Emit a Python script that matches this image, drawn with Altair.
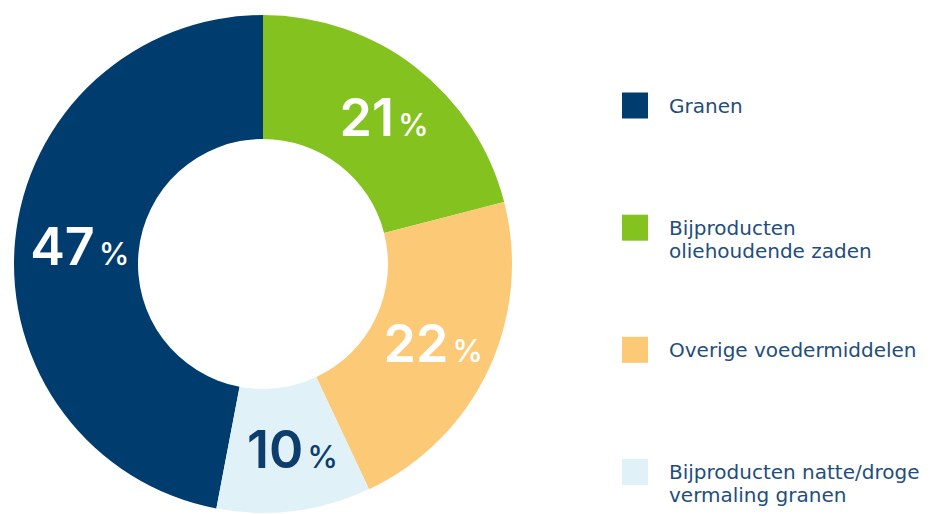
import altair as alt
import pandas as pd

categories = ["Granen", "Bijproducten oliehoudende zaden", "Overige voedermiddelen",
              "Bijproducten natte/droge vermaling granen"]
legend_labels = ["Granen", "Bijproducten\noliehoudende zaden", "Overige voedermiddelen",
                 "Bijproducten natte/droge\nvermaling granen"]
shares = [47, 21, 22, 10]
pie_order = [4, 1, 2, 3]  # clockwise from top
colors = ["#003c6e", "#84c21f", "#fcc977", "#e0f2f7"]

pie_df = pd.DataFrame({
    "cat": categories,
    "share": shares,
    "order": pie_order,
    "num": [str(s) for s in shares],
    "pct": ["%"] * len(shares),
})
legend_df = pd.DataFrame({"cat": categories, "label": legend_labels})

NUM_FONT = "Inter"
LEG_FONT = "DejaVu Sans"
CX, CY = 255, 256
color_scale = alt.Scale(domain=categories, range=colors)

theta = alt.Theta("share:Q", stack=True, scale=alt.Scale(domain=[0, 100]))
order = alt.Order("order:Q", sort="ascending")

arcs = alt.Chart(pie_df).mark_arc(outerRadius=249, innerRadius=125, stroke=None).encode(
    theta=theta,
    order=order,
    color=alt.Color("cat:N", scale=color_scale, legend=None),
    x=alt.value(CX), y=alt.value(CY),
)

label_color = alt.condition(
    alt.datum.cat == "Bijproducten natte/droge vermaling granen",
    alt.value("#0d3d6c"), alt.value("#ffffff"))

nums = alt.Chart(pie_df).mark_text(
    radius=186, font=NUM_FONT, fontSize=52, fontWeight=600, align="right",
    baseline="alphabetic", dx=17, dy=19,
).encode(theta=theta, order=order, text="num:N", color=label_color,
         x=alt.value(CX), y=alt.value(CY))

pcts = alt.Chart(pie_df).mark_text(
    radius=186, font=NUM_FONT, fontSize=31, fontWeight=500, align="left",
    baseline="alphabetic", dx=21, dy=19,
).encode(theta=theta, order=order, text="pct:N", color=label_color,
         x=alt.value(CX), y=alt.value(CY))

yscale = alt.Y("cat:N", sort=categories, axis=None,
               scale=alt.Scale(type="point", range=[97.5, 464], padding=0))

squares = alt.Chart(legend_df).mark_square(size=676, opacity=1).encode(
    x=alt.value(627), y=yscale,
    color=alt.Color("cat:N", scale=color_scale, legend=None),
)

texts = alt.Chart(legend_df).mark_text(
    font=LEG_FONT, fontSize=20, align="left", baseline="alphabetic", dy=7,
    lineBreak="\n", lineHeight=23, color="#1f4e7c",
).encode(x=alt.value(661), y=yscale, text="label:N")

chart = alt.layer(arcs, nums, pcts, squares, texts).properties(
    width=918, height=505, autosize=alt.AutoSizeParams(type="none"), padding=0,
).configure_view(stroke=None)

chart.save("out.html", embed_options={"renderer": "svg", "actions": False})
